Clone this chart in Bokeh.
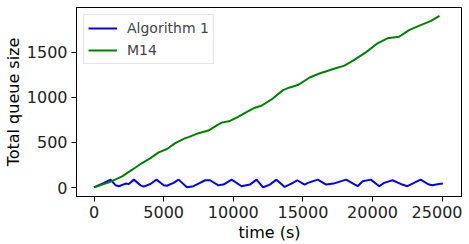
from bokeh.plotting import figure
from bokeh.models import FixedTicker, Range1d, Legend, LegendItem
from bokeh.embed import file_html
from bokeh.resources import INLINE

# Data
alg1_t = [0, 714, 1190, 1550, 1786, 2260, 2500, 2860, 3330, 3570, 4050, 4480, 5000,
          5240, 5710, 6070, 6670, 7140, 7500, 7980, 8330, 8930, 9290, 9880, 10600,
          11190, 11670, 12140, 12620, 13100, 13690, 14170, 14590, 15120, 15360, 16070,
          16670, 17200, 18100, 18930, 19290, 19880, 20480, 20830, 21430, 22020, 22500,
          22980, 23450, 24050, 24290, 24760, 25050]
alg1_q = [3, 52, 88, 25, 15, 44, 40, 88, 25, 11, 40, 88, 25,
          20, 52, 88, 3, 15, 44, 81, 81, 25, 33, 88, 15,
          33, 88, 3, 33, 88, 7, 44, 81, 33, 52, 88,
          33, 44, 88, 15, 70, 88, 15, 52, 81, 40, 15,
          52, 88, 33, 25, 40, 44]

m14_t = [0, 1070, 2020, 2740, 3450, 4050, 4640, 5240, 5830, 6550, 6790, 7500, 8210,
         8880, 9160, 9760, 10240, 10950, 11550, 12020, 12860, 13570, 14050, 14640,
         15480, 16190, 16910, 17400, 17980, 18570, 19520, 20360, 21070, 21910, 22620,
         23450, 24170, 24810]
m14_q = [3, 58, 125, 198, 272, 327, 390, 427, 493, 548, 559, 603, 632,
         695, 720, 739, 775, 835, 885, 907, 989, 1080, 1110, 1136,
         1220, 1264, 1301, 1325, 1352, 1404, 1499, 1599, 1654, 1672, 1745,
         1800, 1845, 1904]

x_ticks = [0, 5000, 10000, 15000, 20000, 25000]
y_ticks = [0, 500, 1000, 1500]

FONT = "DejaVu Sans"

p = figure(width=462, height=244, output_backend="svg", toolbar_location=None,
           x_range=Range1d(-1260, 26460), y_range=Range1d(-99, 1996),
           min_border_left=0, min_border_right=0, min_border_top=7, min_border_bottom=0)

r1 = p.line(alg1_t, alg1_q, line_color="#0000ff", line_width=2)
r2 = p.line(m14_t, m14_q, line_color="#008000", line_width=2)

p.xgrid.visible = False
p.ygrid.visible = False
p.outline_line_color = "black"
p.outline_line_width = 1

for ax in (p.xaxis[0], p.yaxis[0]):
    ax.major_label_text_font = FONT
    ax.major_label_text_font_size = "16px"
    ax.major_label_text_color = "#222222"
    ax.axis_label_text_font = FONT
    ax.axis_label_text_font_size = "16px"
    ax.axis_label_text_font_style = "normal"
    ax.axis_label_text_color = "black"
    ax.minor_tick_line_color = None
    ax.major_tick_out = 5
    ax.major_tick_in = 0
    ax.axis_line_color = "black"
    ax.major_tick_line_color = "black"
    ax.major_label_standoff = 4

p.xaxis[0].ticker = FixedTicker(ticks=x_ticks)
p.yaxis[0].ticker = FixedTicker(ticks=y_ticks)
p.xaxis[0].axis_label = "time (s)"
p.yaxis[0].axis_label = "Total queue size"
p.xaxis[0].axis_label_standoff = 2
p.yaxis[0].axis_label_standoff = 1

legend = Legend(items=[LegendItem(label="Algorithm 1", renderers=[r1]),
                       LegendItem(label="M14", renderers=[r2])],
                location="top_left")
legend.label_text_font = FONT
legend.label_text_font_size = "14px"
legend.border_line_color = "#cccccc"
legend.border_line_width = 1
legend.glyph_width = 29
legend.glyph_height = 18
legend.label_standoff = 10
legend.spacing = 4
legend.padding = 4
legend.margin = 7
p.add_layout(legend)

open("out.html", "w").write(file_html(p, INLINE))
